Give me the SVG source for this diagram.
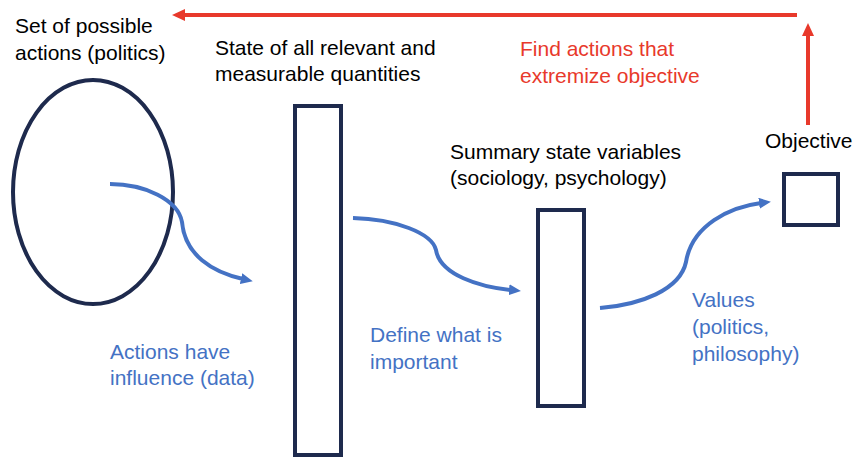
<svg xmlns="http://www.w3.org/2000/svg" width="866" height="458" viewBox="0 0 866 458">
<defs>
<style>
.node{fill:none;stroke:#1e2a4d;stroke-width:4}
.t{font-family:"Liberation Sans",Arial,sans-serif;font-size:21px;fill:#000}
.red{fill:#e8392b}
.blue{fill:#4472c4}
.flow{fill:none;stroke:#4472c4;stroke-width:4}
.redline{fill:none;stroke:#e8392b;stroke-width:4}
</style>
<marker id="ab" viewBox="0 0 12 11" refX="2" refY="5.5" markerWidth="12" markerHeight="11" markerUnits="userSpaceOnUse" orient="auto">
<path d="M0,0 L12,5.5 L0,11 Z" fill="#4472c4"/>
</marker>
<marker id="ar" viewBox="0 0 13 12" refX="2" refY="6" markerWidth="13" markerHeight="12" markerUnits="userSpaceOnUse" orient="auto">
<path d="M0,0 L13,6 L0,12 Z" fill="#e8392b"/>
</marker>
</defs>
<rect width="866" height="458" fill="#fff"/>
<g id="actions">
<ellipse class="node" cx="93" cy="192" rx="80" ry="112" stroke-width="3.5"/>
<text class="t" x="15" y="33">Set of possible</text>
<text class="t" x="15" y="60">actions (politics)</text>
</g>
<g id="state">
<rect class="node" x="295" y="106" width="46" height="349"/>
<text class="t" x="215" y="55">State of all relevant and</text>
<text class="t" x="215" y="81">measurable quantities</text>
</g>
<g id="summary">
<rect class="node" x="538" y="210" width="46" height="196"/>
<text class="t" x="450" y="159">Summary state variables</text>
<text class="t" x="450" y="185">(sociology, psychology)</text>
</g>
<g id="objective">
<rect class="node" x="784" y="174" width="54" height="51"/>
<text class="t" x="765" y="148">Objective</text>
</g>
<g id="connectors">
<path class="flow" d="M110,184 C145,184 178,200 182,222 C185,255 212,272 243,279" marker-end="url(#ab)"/>
<path class="flow" d="M353,218 C395,219 432,233 436,250 C440,275 480,287 511,290" marker-end="url(#ab)"/>
<path class="flow" d="M600,308 C640,305 680,290 686,262 C692,225 730,207 761,203" marker-end="url(#ab)"/>
<path class="redline" d="M808,125 L808,34" marker-end="url(#ar)"/>
<path class="redline" d="M797,15 L183,15" marker-end="url(#ar)"/>
</g>
<g id="labels">
<text class="t red" x="520" y="56">Find actions that</text>
<text class="t red" x="520" y="83">extremize objective</text>
<text class="t blue" x="110" y="359">Actions have</text>
<text class="t blue" x="110" y="385">influence (data)</text>
<text class="t blue" x="370" y="342">Define what is</text>
<text class="t blue" x="370" y="369">important</text>
<text class="t blue" x="692" y="307">Values</text>
<text class="t blue" x="692" y="334">(politics,</text>
<text class="t blue" x="692" y="361">philosophy)</text>
</g>
</svg>
